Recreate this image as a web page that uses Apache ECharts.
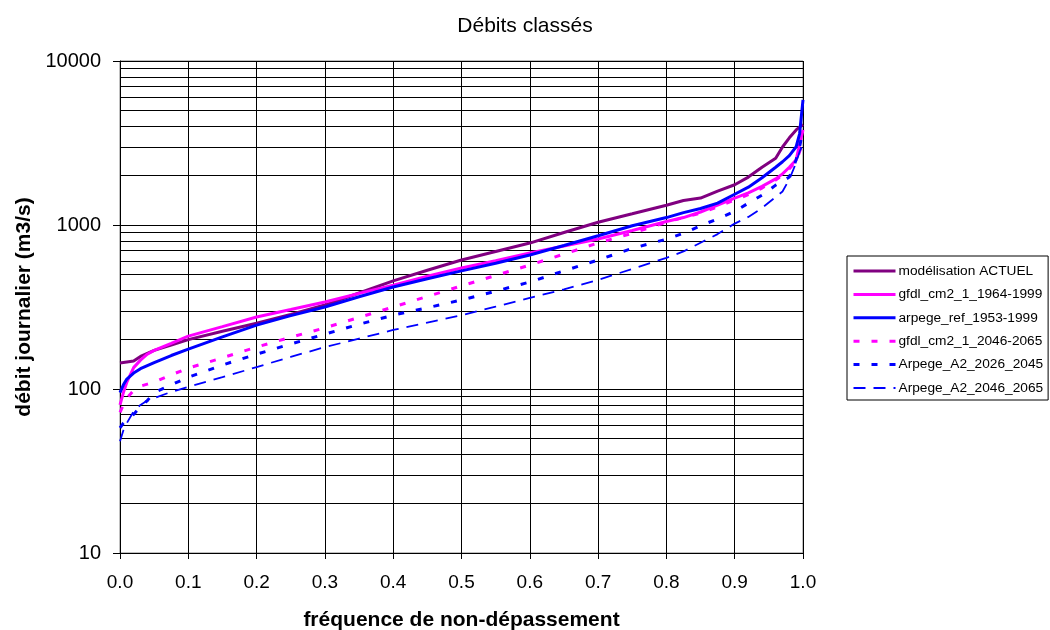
<!DOCTYPE html>
<html>
<head>
<meta charset="utf-8">
<script src="https://cdn.jsdelivr.net/npm/echarts@6/dist/echarts.min.js"></script>
<style>
  html, body { margin: 0; padding: 0; background: #fff; }
  #chart { width: 1050px; height: 630px; }
</style>
</head>
<body>
<div id="chart"></div>
<script>
// Fréquence de non-dépassement (shared abscissa of all curves)
const freq = [0, 0.005, 0.01, 0.02, 0.03, 0.04, 0.05, 0.075, 0.1, 0.15, 0.2, 0.25, 0.3, 0.35, 0.4, 0.45, 0.5, 0.55, 0.6, 0.65, 0.7, 0.75, 0.8, 0.825, 0.85, 0.875, 0.9, 0.92, 0.94, 0.96, 0.97, 0.98, 0.99, 0.995, 1.0];

// Débits journaliers classés (m3/s)
const actuel = [144, 145, 146, 148, 158, 165, 172, 185, 200, 225, 252, 285, 325, 385, 456, 530, 612, 690, 776, 900, 1040, 1170, 1320, 1410, 1460, 1610, 1760, 1960, 2250, 2550, 2990, 3400, 3800, 3950, 4100];
const gfdlRef = [80, 95, 110, 135, 150, 163, 172, 190, 210, 240, 275, 305, 339, 383, 430, 487, 547, 605, 675, 745, 822, 925, 1050, 1110, 1200, 1320, 1460, 1570, 1720, 1910, 2050, 2250, 2500, 3100, 3800];
const arpegeRef = [95, 106, 115, 125, 133, 139, 145, 160, 175, 208, 245, 280, 316, 365, 419, 470, 525, 585, 656, 750, 860, 990, 1110, 1190, 1260, 1360, 1540, 1700, 1940, 2250, 2430, 2650, 3000, 3600, 5800];
const gfdlFut = [72, 80, 88, 98, 104, 107, 110, 122, 134, 155, 180, 207, 236, 273, 316, 367, 425, 492, 570, 665, 777, 890, 1040, 1110, 1180, 1290, 1420, 1530, 1680, 1880, 2020, 2200, 2450, 2800, 3200];
const arpegeA2a = [58, 62, 65, 70, 78, 85, 95, 106, 118, 140, 163, 188, 216, 248, 282, 313, 349, 395, 449, 525, 612, 720, 820, 890, 990, 1090, 1210, 1360, 1520, 1750, 1850, 1960, 2500, 3000, 3800];
const arpegeA2b = [48, 56, 62, 73, 80, 85, 88, 96, 103, 118, 136, 157, 180, 203, 229, 254, 282, 318, 359, 405, 462, 540, 630, 690, 780, 880, 1020, 1120, 1270, 1480, 1600, 1900, 2400, 2800, 3100];

const seriesNames = ['modélisation ACTUEL', 'gfdl_cm2_1_1964-1999', 'arpege_ref_1953-1999', 'gfdl_cm2_1_2046-2065', 'Arpege_A2_2026_2045', 'Arpege_A2_2046_2065'];

// Intermediate horizontal grid lines of the log scale (2..9 × each decade)
const minorLevels = [20, 30, 40, 50, 60, 70, 80, 90, 200, 300, 400, 500, 600, 700, 800, 900, 2000, 3000, 4000, 5000, 6000, 7000, 8000, 9000];

const FONT = 'Liberation Sans, Arial, sans-serif';

const styles = [
  { color: '#800080', width: 3, type: 'solid' },
  { color: '#FF00FF', width: 3, type: 'solid' },
  { color: '#0000FF', width: 3, type: 'solid' },
  { color: '#FF00FF', width: 3, type: [6, 12] },
  { color: '#0000FF', width: 3, type: [6, 12] },
  { color: '#0000FF', width: 1.8, type: [12, 8] }
];
const curves = [actuel, gfdlRef, arpegeRef, gfdlFut, arpegeA2a, arpegeA2b];

function pairs(vals) { return freq.map((f, i) => [f, vals[i]]); }

const series = curves.map((vals, i) => ({
  name: seriesNames[i],
  type: 'line',
  data: pairs(vals),
  symbol: 'none',
  showSymbol: false,
  smooth: false,
  lineStyle: { color: styles[i].color, width: styles[i].width, type: styles[i].type },
  itemStyle: { color: styles[i].color },
  emphasis: { disabled: true },
  silent: true,
  z: 3
}));

// Minor horizontal grid lines attached to the first series
series[0].markLine = {
  silent: true,
  symbol: ['none', 'none'],
  label: { show: false },
  lineStyle: { color: '#000', width: 1, type: 'solid' },
  data: minorLevels.map(v => ({ yAxis: v })),
  animation: false,
  z: 1
};

const chart = echarts.init(document.getElementById('chart'), null, { renderer: 'canvas' });

chart.setOption({
  animation: false,
  backgroundColor: '#fff',
  title: {
    text: 'Débits classés',
    left: 'center',
    top: 11,
    textStyle: { fontFamily: FONT, fontSize: 21, fontWeight: 'normal', color: '#000' }
  },
  legend: {
    orient: 'vertical',
    left: 847,
    top: 256,
    itemWidth: 42,
    itemHeight: 14,
    itemGap: 9.4,
    padding: [8, 5, 5, 5],
    borderColor: '#000',
    borderWidth: 1,
    selectedMode: false,
    itemStyle: { opacity: 0 },
    textStyle: { fontFamily: FONT, fontSize: 13.7, color: '#000', padding: [0, 0, 0, -2] },
    data: seriesNames.map((n, i) => ({
      name: n,
      lineStyle: { color: styles[i].color, width: styles[i].width, type: styles[i].type }
    }))
  },
  grid: {
    left: 120,
    right: 247,
    top: 61,
    bottom: 77,
    show: true,
    borderColor: '#808080',
    borderWidth: 1,
    containLabel: false,
    outerBoundsMode: 'none'
  },
  xAxis: {
    type: 'value',
    min: 0,
    max: 1,
    interval: 0.1,
    name: 'fréquence de non-dépassement',
    nameLocation: 'middle',
    nameGap: 57,
    nameTextStyle: { fontFamily: FONT, fontSize: 21, fontWeight: 'bold', color: '#000' },
    axisLine: { show: true, onZero: false, lineStyle: { color: '#000', width: 1 } },
    axisTick: { show: true, inside: false, length: 6, lineStyle: { color: '#000' } },
    axisLabel: {
      fontFamily: FONT, fontSize: 19, color: '#000', margin: 20,
      formatter: v => v.toFixed(1)
    },
    splitLine: { show: true, lineStyle: { color: '#000', width: 1 } }
  },
  yAxis: {
    type: 'log',
    logBase: 10,
    min: 10,
    max: 10000,
    name: 'débit journalier (m3/s)',
    nameLocation: 'middle',
    nameGap: 82,
    nameRotate: 90,
    nameTextStyle: { fontFamily: FONT, fontSize: 21, fontWeight: 'bold', color: '#000' },
    axisLine: { show: true, lineStyle: { color: '#000', width: 1 } },
    axisTick: { show: true, inside: false, length: 7, lineStyle: { color: '#000' } },
    axisLabel: { fontFamily: FONT, fontSize: 20, color: '#000', margin: 19, formatter: v => String(Math.round(v)) },
    splitLine: { show: true, lineStyle: { color: '#000', width: 1 } }
  },
  series: series
});
</script>
</body>
</html>
